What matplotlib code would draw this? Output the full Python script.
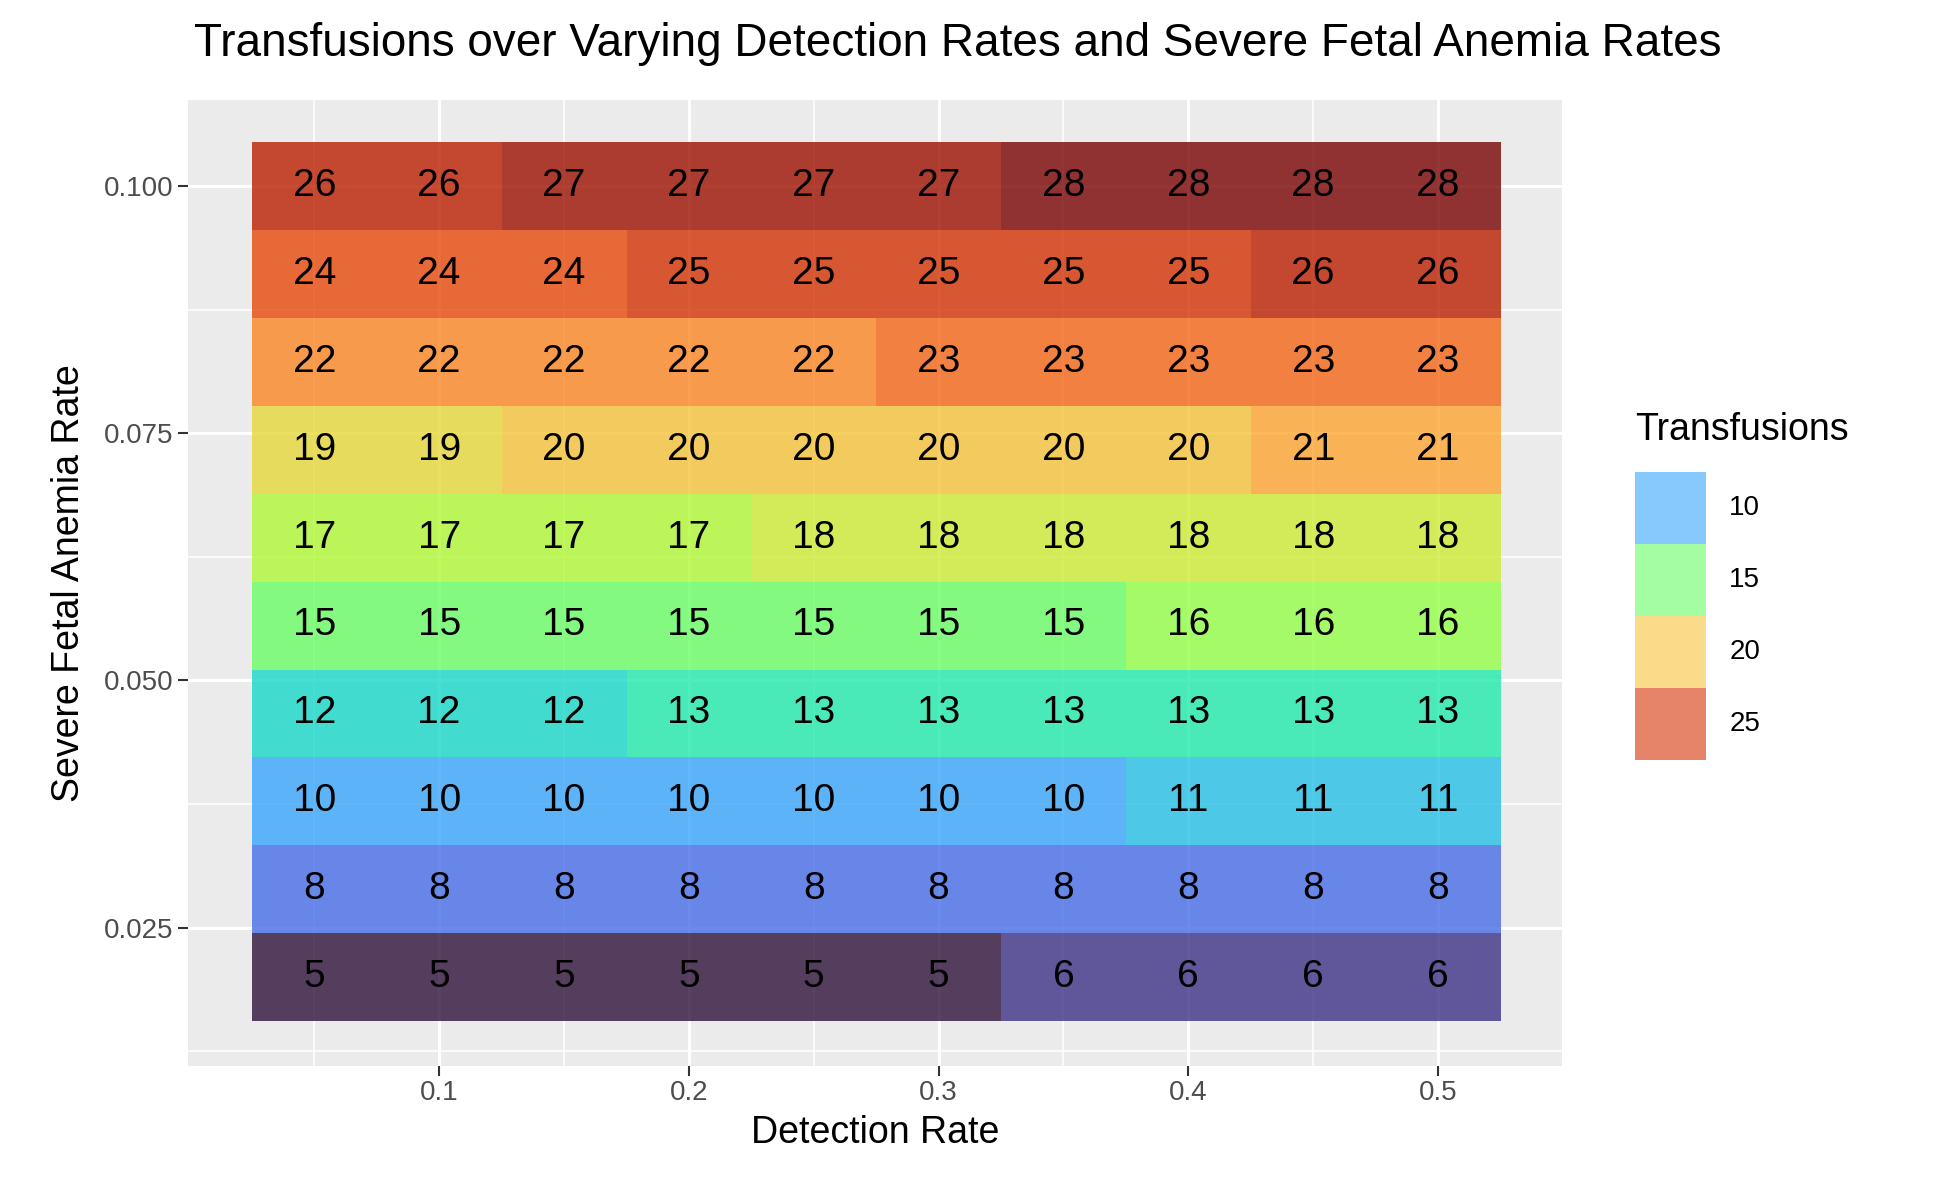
import numpy as np
import matplotlib.pyplot as plt
from matplotlib.patches import Rectangle
from matplotlib.colors import Normalize

plt.rcParams['font.family'] = ['Liberation Sans', 'DejaVu Sans']

detection = [0.05, 0.10, 0.15, 0.20, 0.25, 0.30, 0.35, 0.40, 0.45, 0.50]
anemia = list(np.linspace(0.02, 0.10, 10))
# rows from lowest anemia rate to highest
transfusions = [
    [5, 5, 5, 5, 5, 5, 6, 6, 6, 6],
    [8, 8, 8, 8, 8, 8, 8, 8, 8, 8],
    [10, 10, 10, 10, 10, 10, 10, 11, 11, 11],
    [12, 12, 12, 13, 13, 13, 13, 13, 13, 13],
    [15, 15, 15, 15, 15, 15, 15, 16, 16, 16],
    [17, 17, 17, 17, 18, 18, 18, 18, 18, 18],
    [19, 19, 20, 20, 20, 20, 20, 20, 21, 21],
    [22, 22, 22, 22, 22, 23, 23, 23, 23, 23],
    [24, 24, 24, 25, 25, 25, 25, 25, 26, 26],
    [26, 26, 27, 27, 27, 27, 28, 28, 28, 28],
]
legend_vals = [10, 15, 20, 25]

Z = np.array(transfusions, dtype=float)
norm = Normalize(vmin=5, vmax=28)
cmap = plt.get_cmap('turbo')

fig = plt.figure(figsize=(19.4, 11.99), dpi=100)
ax = fig.add_axes([0.097, 0.111, 0.708, 0.806])
ax.set_facecolor('#EBEBEB')

dx = detection[1] - detection[0]
dy = anemia[1] - anemia[0]
ax.imshow(Z, cmap=cmap, norm=norm, alpha=0.8, origin='lower', aspect='auto',
          interpolation='nearest', zorder=2,
          extent=[detection[0] - dx / 2, detection[-1] + dx / 2,
                  anemia[0] - dy / 2, anemia[-1] + dy / 2])
for i, yv in enumerate(anemia):
    for j, xv in enumerate(detection):
        ax.text(xv, yv, str(transfusions[i][j]), ha='center', va='center',
                fontsize=28, color='black', zorder=3)

ax.set_xlim(-0.0005, 0.5495)
ax.set_ylim(0.011, 0.10875)
ax.set_xticks([0.1, 0.2, 0.3, 0.4, 0.5])
ax.set_xticklabels(['0.1', '0.2', '0.3', '0.4', '0.5'])
ax.set_yticks([0.025, 0.05, 0.075, 0.1])
ax.set_yticklabels(['0.025', '0.050', '0.075', '0.100'])
ax.set_xticks([0.05, 0.15, 0.25, 0.35, 0.45], minor=True)
ax.set_yticks([0.0125, 0.0375, 0.0625, 0.0875], minor=True)
ax.grid(which='major', color='white', linewidth=2.2, zorder=0)
ax.grid(which='minor', color='white', linewidth=1.1, zorder=0)
ax.set_axisbelow(True)
for s in ax.spines.values():
    s.set_visible(False)
ax.tick_params(which='major', length=7, width=1.5, color='#333333',
               labelsize=20, labelcolor='#4D4D4D')
ax.tick_params(which='minor', length=0)
ax.set_xlabel('Detection Rate', fontsize=27, labelpad=6)
ax.set_ylabel('Severe Fetal Anemia Rate', fontsize=27, labelpad=12)

fig.text(0.1, 0.953, 'Transfusions over Varying Detection Rates and Severe Fetal Anemia Rates',
         fontsize=33, ha='left', va='baseline')

# legend
fig.text(0.682 * 1940 / 1940 + 0.0, 0, '')
lx, ly0 = 1635 / 1940, 1 - 472 / 1199
kw, kh = 71 / 1940, 72 / 1199
fig.text(lx, 1 - 430 / 1199, 'Transfusions', fontsize=27, ha='left', va='center')
for k, v in enumerate(legend_vals):
    y = ly0 - (k + 1) * kh
    fig.patches.append(Rectangle((lx, y), kw, kh, transform=fig.transFigure,
                                 facecolor=cmap(norm(v)), alpha=0.6, edgecolor='none'))
    fig.text(lx + kw + 0.012, y + kh / 2, str(v), fontsize=20, ha='left', va='center')

fig.savefig('out.png', dpi=100)
